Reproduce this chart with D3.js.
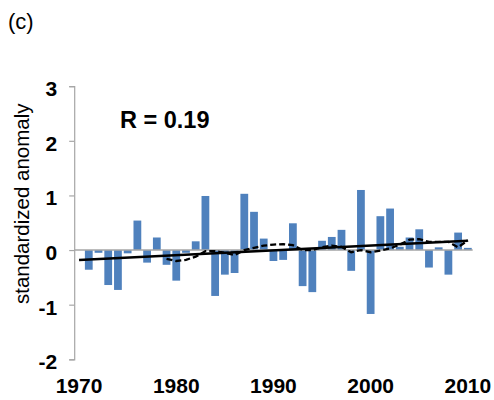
<!DOCTYPE html>
<html>
<head>
<meta charset="utf-8">
<script src="https://cdn.jsdelivr.net/npm/d3@7/dist/d3.min.js"></script>
<style>
  body { margin: 0; background: #fff; }
  svg { display: block; }
  text { font-family: "Liberation Sans", Arial, sans-serif; fill: #000; }
</style>
</head>
<body>
<svg id="chart" width="494" height="400"></svg>
<script>
// Category axis: one slot per year (1970 has no observation)
const categories = [1970, 1971, 1972, 1973, 1974, 1975, 1976, 1977, 1978, 1979,
  1980, 1981, 1982, 1983, 1984, 1985, 1986, 1987, 1988, 1989,
  1990, 1991, 1992, 1993, 1994, 1995, 1996, 1997, 1998, 1999,
  2000, 2001, 2002, 2003, 2004, 2005, 2006, 2007, 2008, 2009, 2010];

// Yearly standardized anomalies
const barYears = [1971, 1972, 1973, 1974, 1975, 1976, 1977, 1978, 1979, 1980,
  1981, 1982, 1983, 1984, 1985, 1986, 1987, 1988, 1989, 1990,
  1991, 1992, 1993, 1994, 1995, 1996, 1997, 1998, 1999, 2000,
  2001, 2002, 2003, 2004, 2005, 2006, 2007, 2008, 2009, 2010];
const anomalies = [-0.36, -0.05, -0.64, -0.73, -0.06, 0.54, -0.23, 0.23, -0.27, -0.56,
  -0.05, 0.16, 0.99, -0.84, -0.45, -0.42, 1.03, 0.70, 0.21, -0.20,
  -0.18, 0.49, -0.66, -0.77, 0.17, 0.24, 0.37, -0.38, 1.10, -1.17,
  0.62, 0.76, 0.06, 0.23, 0.38, -0.32, 0.05, -0.45, 0.32, 0.04];

// Running mean (dashed)
const smoothYears = [1979, 1980, 1981, 1982, 1983, 1984, 1985, 1986, 1987, 1988,
  1989, 1990, 1991, 1992, 1993, 1994, 1995, 1996, 1997, 1998,
  1999, 2000, 2001, 2002, 2003, 2004, 2005, 2006, 2007, 2008, 2009, 2010];
const smoothValues = [-0.16, -0.20, -0.18, -0.12, -0.02, -0.02, -0.05, -0.09, 0.00, 0.04,
  0.08, 0.10, 0.11, 0.09, 0.00, 0.00, 0.05, 0.08, 0.06, -0.04,
  0.00, -0.04, -0.01, 0.03, 0.10, 0.19, 0.20, 0.15, 0.15, 0.15, 0.05, 0.18];

// Linear trend (solid)
const trendYears = [1970, 2010];
const trendValues = [-0.18, 0.17];

const yTicks = [-2, -1, 0, 1, 2, 3];
const xTickLabels = [1970, 1980, 1990, 2000, 2010];
const panelLabel = "(c)";
const statLabel = "R = 0.19";
const yTitle = "standardized anomaly";

const svg = d3.select("#chart");

const plot = { left: 74.2, right: 472.7, top: 86.2, bottom: 359.3 };

const x = d3.scaleBand()
  .domain(categories)
  .range([plot.left, plot.right])
  .paddingInner(0.2)
  .paddingOuter(0.1);

const xc = d => x(d) + x.bandwidth() / 2;

const y = d3.scaleLinear()
  .domain([-2, 3])
  .range([plot.bottom, plot.top]);

// Bars
svg.append("g")
  .selectAll("rect")
  .data(barYears.map((yr, i) => ({ yr, v: anomalies[i] })))
  .join("rect")
  .attr("x", d => x(d.yr))
  .attr("width", x.bandwidth())
  .attr("y", d => Math.min(y(d.v), y(0)))
  .attr("height", d => Math.abs(y(d.v) - y(0)))
  .attr("fill", "#4f81bd");

// Zero (category) axis line
svg.append("line")
  .attr("x1", plot.left).attr("x2", plot.right)
  .attr("y1", y(0)).attr("y2", y(0))
  .attr("stroke", "#a6a6a6").attr("stroke-width", 1.5);

// Value axis
const yAxis = svg.append("g")
  .attr("transform", `translate(${plot.left},0)`)
  .call(d3.axisLeft(y).tickValues(yTicks).tickSize(5).tickPadding(12).tickFormat(d => String(d)));
yAxis.select(".domain").attr("stroke", "#a6a6a6").attr("stroke-width", 1.2);
yAxis.selectAll(".tick line").attr("stroke", "#a6a6a6").attr("stroke-width", 1.2);
yAxis.selectAll(".tick text")
  .attr("font-family", "'Liberation Sans', Arial, sans-serif")
  .attr("font-size", 21).attr("font-weight", "bold")
  .attr("fill", "#000").attr("dy", "0.45em");

// Year labels below the plot
svg.append("g")
  .selectAll("text")
  .data(xTickLabels)
  .join("text")
  .attr("x", d => xc(d))
  .attr("y", 393)
  .attr("text-anchor", "middle")
  .attr("font-size", 21).attr("font-weight", "bold")
  .text(d => d);

// Running mean
const line = d3.line().x(d => xc(d[0])).y(d => y(d[1]));
svg.append("path")
  .datum(smoothYears.map((yr, i) => [yr, smoothValues[i]]))
  .attr("d", line)
  .attr("fill", "none")
  .attr("stroke", "#000")
  .attr("stroke-width", 2.3)
  .attr("stroke-dasharray", "6,3");

// Trend line
svg.append("path")
  .datum(trendYears.map((yr, i) => [yr, trendValues[i]]))
  .attr("d", line)
  .attr("fill", "none")
  .attr("stroke", "#000")
  .attr("stroke-width", 2.5);

// Axis title
svg.append("text")
  .attr("transform", `translate(29,${(plot.top + plot.bottom) / 2 - 19}) rotate(-90)`)
  .attr("text-anchor", "middle")
  .attr("font-size", 20.5)
  .text(yTitle);

// Panel label and correlation
svg.append("text")
  .attr("x", 8).attr("y", 29)
  .attr("font-size", 22)
  .text(panelLabel);

svg.append("text")
  .attr("x", 120).attr("y", 128)
  .attr("font-size", 23.5).attr("font-weight", "bold")
  .text(statLabel);
</script>
</body>
</html>
